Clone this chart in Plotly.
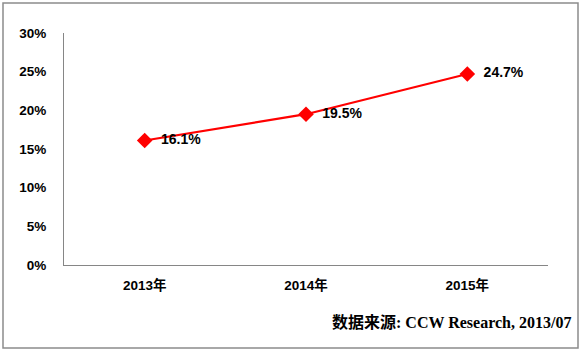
import plotly.graph_objects as go

categories = ["2013年", "2014年", "2015年"]
values = [16.1, 19.5, 24.7]
labels = ["16.1%", "19.5%", "24.7%"]
y_ticks = [0, 5, 10, 15, 20, 25, 30]
y_tick_text = ["0%", "5%", "10%", "15%", "20%", "25%", "30%"]
source_text = "数据来源: CCW Research, 2013/07"

W, H = 581, 352
L, R, T, B = 64, 33, 33, 87
pw, ph = W - L - R, H - T - B

fig = go.Figure()
fig.add_trace(go.Scatter(
    x=categories, y=values, mode="lines+markers+text",
    line=dict(color="#ff0000", width=2.2),
    marker=dict(symbol="diamond", size=12, color="#ff0000"),
    text=["  " + t for t in labels], textposition="middle right",
    textfont=dict(family="Liberation Sans, Arial", size=14, color="#000000", weight="bold"),
    cliponaxis=False, showlegend=False,
))

def px(x):
    return (x - L) / pw

def py(y):
    return (H - B - y) / ph

fig.add_shape(type="rect", xref="paper", yref="paper",
              x0=px(3), x1=px(578), y0=py(348), y1=py(3),
              line=dict(color="#8c8c8c", width=1.5), layer="below")

fig.add_annotation(xref="paper", yref="paper", x=px(573), y=py(322),
                   xanchor="right", yanchor="middle", showarrow=False,
                   text=source_text,
                   font=dict(family="Liberation Serif, Noto Sans CJK SC", size=16,
                             color="#000000", weight="bold"))

fig.update_layout(
    width=W, height=H,
    margin=dict(l=L, r=R, t=T, b=B),
    paper_bgcolor="#ffffff", plot_bgcolor="#ffffff",
    xaxis=dict(type="category", range=[-0.5, 2.5], showgrid=False, zeroline=False,
               showline=True, linecolor="#868686", linewidth=1,
               ticks="outside", ticklen=0, ticklabelstandoff=8,
               tickfont=dict(family="Liberation Sans, Noto Sans CJK SC", size=13.5,
                             color="#000000", weight="bold")),
    yaxis=dict(range=[0, 30], tickvals=y_ticks, ticktext=y_tick_text,
               showgrid=False, zeroline=False,
               showline=True, linecolor="#868686", linewidth=1,
               ticks="outside", ticklen=0, ticklabelstandoff=14,
               tickfont=dict(family="Liberation Sans, Arial", size=13.5,
                             color="#000000", weight="bold")),
)

fig.write_html("out.html")
